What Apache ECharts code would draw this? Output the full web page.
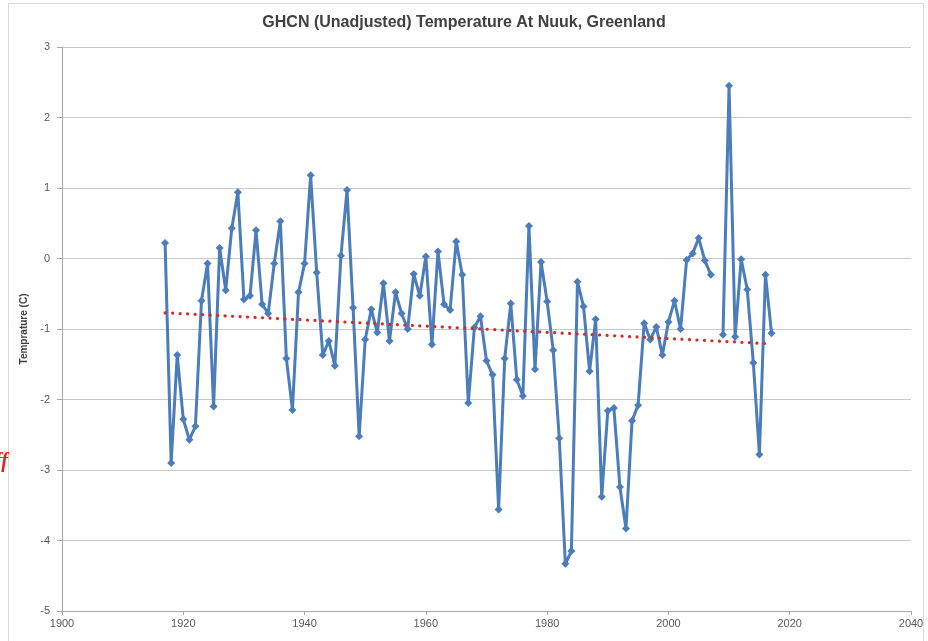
<!DOCTYPE html>
<html>
<head>
<meta charset="utf-8">
<script src="https://cdn.jsdelivr.net/npm/echarts@6/dist/echarts.min.js"></script>
<style>html,body{margin:0;padding:0;background:#fff;}#c{width:928px;height:641px;}</style>
</head>
<body>
<div id="c"></div>
<script>
const years = [1917,1918,1919,1920,1921,1922,1923,1924,1925,1926,1927,1928,1929,1930,1931,1932,1933,1934,1935,1936,1937,1938,1939,1940,1941,1942,1943,1944,1945,1946,1947,1948,1949,1950,1951,1952,1953,1954,1955,1956,1957,1958,1959,1960,1961,1962,1963,1964,1965,1966,1967,1968,1969,1970,1971,1972,1973,1974,1975,1976,1977,1978,1979,1980,1981,1982,1983,1984,1985,1986,1987,1988,1989,1990,1991,1992,1993,1994,1995,1996,1997,1998,1999,2000,2001,2002,2003,2004,2005,2006,2007,2008,2009,2010,2011,2012,2013,2014,2015,2016,2017];
const temps = [0.22,-2.9,-1.37,-2.28,-2.57,-2.38,-0.6,-0.07,-2.1,0.15,-0.45,0.43,0.94,-0.58,-0.53,0.4,-0.65,-0.78,-0.07,0.53,-1.42,-2.15,-0.48,-0.07,1.18,-0.2,-1.37,-1.17,-1.52,0.04,0.97,-0.7,-2.52,-1.15,-0.72,-1.05,-0.35,-1.17,-0.48,-0.78,-1.0,-0.22,-0.53,0.03,-1.22,0.1,-0.65,-0.73,0.24,-0.23,-2.05,-0.98,-0.82,-1.45,-1.65,-3.56,-1.42,-0.64,-1.72,-1.95,0.46,-1.57,-0.05,-0.61,-1.3,-2.55,-4.33,-4.15,-0.33,-0.68,-1.6,-0.86,-3.38,-2.16,-2.12,-3.24,-3.83,-2.3,-2.08,-0.92,-1.15,-0.97,-1.37,-0.9,-0.6,-1.0,-0.02,0.07,0.29,-0.03,-0.23,null,-1.08,2.45,-1.11,-0.01,-0.44,-1.48,-2.78,-0.23,-1.06];
const trendYears = [1917, 2017];
const trendTemps = [-0.77, -1.21];
const xTicks = {min: 1900, max: 2040, interval: 20};
const yTicks = {min: -5, max: 3, interval: 1};
const titleText = 'GHCN (Unadjusted) Temperature At Nuuk, Greenland';
const yName = 'Temprature (C)';

const chart = echarts.init(document.getElementById('c'), null, {renderer: 'canvas'});
const labelFont = {color: '#595959', fontSize: 11, fontFamily: 'Liberation Sans'};
chart.setOption({
  animation: false,
  backgroundColor: '#fff',
  title: {
    text: titleText, left: 'center', top: 10,
    textStyle: {fontFamily: 'Liberation Sans', fontWeight: 'bold', fontSize: 16, color: '#404040'}
  },
  graphic: [
    {type: 'rect', shape: {x: 8.5, y: 3.5, width: 915, height: 640}, style: {fill: 'none', stroke: '#d9d9d9', lineWidth: 1}, silent: true},
    {type: 'text', left: -5, top: 452, style: {text: 'ff', fill: '#e8201e', font: 'italic bold 20px Liberation Serif'}, silent: true}
  ],
  grid: {left: 62, right: 17, top: 47, bottom: 30, containLabel: false},
  xAxis: {
    type: 'value', min: xTicks.min, max: xTicks.max, interval: xTicks.interval,
    axisLine: {show: true, onZero: false, lineStyle: {color: '#a6a6a6', width: 1}},
    axisTick: {show: true, length: 4, lineStyle: {color: '#a6a6a6'}},
    axisLabel: Object.assign({margin: 7, formatter: v => String(v)}, labelFont),
    splitLine: {show: false}
  },
  yAxis: {
    type: 'value', min: yTicks.min, max: yTicks.max, interval: yTicks.interval,
    name: yName, nameLocation: 'middle', nameGap: 29, nameRotate: 90,
    nameTextStyle: {fontFamily: 'Liberation Sans', fontSize: 10, color: '#404040', fontWeight: 'bold'},
    axisLine: {show: true, onZero: false, lineStyle: {color: '#a6a6a6', width: 1}},
    axisTick: {show: true, length: 5, lineStyle: {color: '#a6a6a6'}},
    axisLabel: Object.assign({margin: 12}, labelFont),
    splitLine: {show: true, lineStyle: {color: '#c9c9c9', width: 1.2}}
  },
  series: [
    {
      type: 'line',
      data: years.map((y, i) => [y, temps[i]]),
      connectNulls: false,
      symbol: 'diamond', symbolSize: 8,
      lineStyle: {color: '#4a7dba', width: 3},
      itemStyle: {color: '#4a7dba'},
      z: 3
    },
    {
      type: 'line',
      data: trendYears.map((y, i) => [y, trendTemps[i]]),
      symbol: 'none',
      lineStyle: {color: '#d42b2b', width: 3.2, type: [0.1, 7.4], cap: 'round'},
      z: 4
    }
  ]
});
</script>
</body>
</html>
